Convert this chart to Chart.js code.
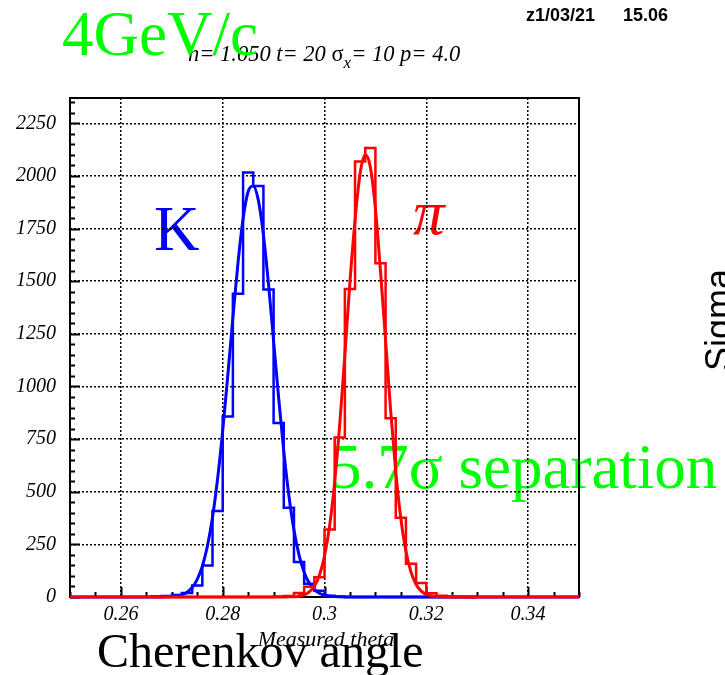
<!DOCTYPE html>
<html>
<head>
<meta charset="utf-8">
<script src="https://cdn.jsdelivr.net/npm/chart.js@4.4.1/dist/chart.umd.min.js"></script>
<style>
  html, body { margin: 0; padding: 0; background: #fff; }
  canvas { display: block; }
</style>
</head>
<body>
<canvas id="thetaChart" width="725" height="675"></canvas>
<script>
// histogram bin edges (0.002 wide) and counts per bin
const thetaEdges = [0.266, 0.268, 0.270, 0.272, 0.274, 0.276, 0.278, 0.280, 0.282, 0.284,
                    0.286, 0.288, 0.290, 0.292, 0.294, 0.296, 0.298, 0.300, 0.302, 0.304,
                    0.306, 0.308, 0.310, 0.312, 0.314, 0.316, 0.318, 0.320, 0.322, 0.324,
                    0.326, 0.328, 0.330];
const kaonCounts = [2, 5, 10, 19, 55, 150, 408, 857, 1440, 2016,
                    1952, 1460, 826, 424, 166, 63, 30, 6, 2, 0,
                    0, 0, 0, 0, 0, 0, 0, 0, 0, 0,
                    0, 0];
const pionCounts = [0, 0, 0, 0, 0, 0, 0, 0, 0, 0,
                    0, 0, 2, 5, 19, 49, 94, 321, 758, 1463,
                    2068, 2132, 1585, 849, 376, 158, 67, 18, 6, 2,
                    0, 0];

// gaussian fit curves, sampled every 0.001
const kaonFitTheta = [0.250, 0.266, 0.267, 0.268, 0.269, 0.270, 0.271, 0.272, 0.273, 0.274,
                      0.275, 0.276, 0.277, 0.278, 0.279, 0.280, 0.281, 0.282, 0.283, 0.284,
                      0.285, 0.286, 0.287, 0.288, 0.289, 0.290, 0.291, 0.292, 0.293, 0.294,
                      0.295, 0.296, 0.297, 0.298, 0.299, 0.300, 0.301, 0.302, 0.303, 0.304,
                      0.350];
const kaonFitValues = [0, 0, 0, 0, 1, 2, 5, 11, 23, 45,
                       84, 146, 242, 379, 562, 790, 1052, 1326, 1586, 1796,
                       1926, 1952, 1885, 1720, 1486, 1216, 943, 693, 482, 318,
                       199, 118, 66, 35, 18, 8, 4, 2, 1, 0,
                       0];
const pionFitTheta = [0.250, 0.290, 0.291, 0.292, 0.293, 0.294, 0.295, 0.296, 0.297, 0.298,
                      0.299, 0.300, 0.301, 0.302, 0.303, 0.304, 0.305, 0.306, 0.307, 0.308,
                      0.309, 0.310, 0.311, 0.312, 0.313, 0.314, 0.315, 0.316, 0.317, 0.318,
                      0.319, 0.320, 0.321, 0.322, 0.323, 0.324, 0.350];
const pionFitValues = [0, 0, 0, 0, 1, 1, 4, 10, 24, 51,
                       103, 194, 337, 546, 822, 1150, 1496, 1790, 2012, 2100,
                       2042, 1845, 1548, 1219, 884, 596, 373, 217, 118, 59,
                       28, 12, 5, 2, 1, 0, 0];

const xTickValues = [0.26, 0.28, 0.30, 0.32, 0.34];
const xTickLabels = ['0.26', '0.28', '0.3', '0.32', '0.34'];
const yTickValues = [0, 250, 500, 750, 1000, 1250, 1500, 1750, 2000, 2250];
const yTickLabels = ['0', '250', '500', '750', '1000', '1250', '1500', '1750', '2000', '2250'];

const serif = '"Liberation Serif", "Times New Roman", serif';
const sans = '"Liberation Sans", Arial, sans-serif';
const GREEN = 'rgb(0,255,0)';
const BLUE = 'rgb(0,0,255)';
const RED = 'rgb(255,0,0)';

function histPoints(counts) {
    const pts = [{x: thetaEdges[0], y: 0}];
    counts.forEach((c, i) => pts.push({x: thetaEdges[i], y: c}));
    pts.push({x: thetaEdges[thetaEdges.length - 1], y: 0});
    return pts;
}

function curvePoints(xs, ys) {
    return xs.map((x, i) => ({x: x, y: ys[i]}));
}

// draws text and returns its advance so pieces can be chained
function put(ctx, text, x, y, font, color, align) {
    ctx.font = font;
    ctx.fillStyle = color;
    ctx.textAlign = align || 'left';
    ctx.textBaseline = 'alphabetic';
    ctx.fillText(text, x, y);
    return ctx.measureText(text).width;
}

// labels sit underneath the grid and the histograms
const labelsPlugin = {
    id: 'labels',
    beforeDraw(chart) {
        const ctx = chart.ctx;
        ctx.save();
        ctx.fillStyle = '#fff';
        ctx.fillRect(0, 0, chart.width, chart.height);

        // run parameters line
        const it = 'italic 22.5px ' + serif;
        let px = 188;
        px += put(ctx, 'n= 1.050 t= 20 ', px, 61, it, '#000');
        px += put(ctx, '\u03c3', px, 61, '22.5px ' + serif, '#000');
        px += put(ctx, 'x', px, 68, 'italic 17px ' + serif, '#000');
        put(ctx, '= 10 p= 4.0', px, 61, it, '#000');

        put(ctx, '4GeV/c', 62, 55, '63px ' + serif, GREEN);

        put(ctx, 'z1/03/21', 526, 21, 'bold 18px ' + sans, '#000');
        put(ctx, '15.06', 623, 21, 'bold 18px ' + sans, '#000');

        put(ctx, 'K', 154, 250, '63px ' + serif, BLUE);
        put(ctx, '\u03c0', 413, 234, 'italic 63px ' + serif, RED);
        put(ctx, '5.7\u03c3 separation', 330, 488, '63px ' + serif, GREEN);

        put(ctx, 'Cherenkov angle', 97, 667, '48px ' + serif, '#000');
        put(ctx, 'Measured theta', 326, 646, 'italic 22px ' + serif, '#000', 'center');

        ctx.translate(731, 371);
        ctx.rotate(-Math.PI / 2);
        put(ctx, 'Sigma', 0, 0, '36px ' + sans, '#000');
        ctx.restore();
    }
};

// box around the plot plus inward major/minor ticks
const framePlugin = {
    id: 'frame',
    beforeDatasetsDraw(chart) {
        const {ctx, chartArea: a, scales: {x, y}} = chart;
        ctx.save();
        ctx.strokeStyle = '#000';
        ctx.lineWidth = 2;
        ctx.strokeRect(a.left, a.top, a.right - a.left, a.bottom - a.top);

        ctx.beginPath();
        for (let k = 0; k * 50 <= y.max; k++) {
            const py = Math.round(y.getPixelForValue(k * 50)) + 0.5;
            const len = k % 5 === 0 ? 10 : 5;
            ctx.moveTo(a.left, py);
            ctx.lineTo(a.left + len, py);
        }
        for (let k = 0; k <= 20; k++) {
            const v = 0.25 + k * 0.005;
            const px = Math.round(x.getPixelForValue(v)) + 0.5;
            const len = k % 4 === 2 ? 10 : 5;
            ctx.moveTo(px, a.bottom);
            ctx.lineTo(px, a.bottom - len);
        }
        ctx.stroke();
        ctx.restore();
    }
};

const ctx = document.getElementById('thetaChart').getContext('2d');

new Chart(ctx, {
    type: 'line',
    data: {
        datasets: [
            { label: 'pi fit', data: curvePoints(pionFitTheta, pionFitValues), borderColor: RED,
              borderWidth: 3, pointRadius: 0, cubicInterpolationMode: 'monotone', clip: false },
            { label: 'pi', data: histPoints(pionCounts), borderColor: RED, borderWidth: 2.5,
              pointRadius: 0, stepped: true, clip: false },
            { label: 'K fit', data: curvePoints(kaonFitTheta, kaonFitValues), borderColor: BLUE,
              borderWidth: 3, pointRadius: 0, cubicInterpolationMode: 'monotone', clip: false },
            { label: 'K', data: histPoints(kaonCounts), borderColor: BLUE, borderWidth: 2.5,
              pointRadius: 0, stepped: true, clip: false }
        ]
    },
    options: {
        responsive: false,
        animation: false,
        devicePixelRatio: 1,
        layout: { padding: { left: 0, top: 98, right: 146, bottom: 38 } },
        plugins: { legend: { display: false }, tooltip: { enabled: false } },
        scales: {
            x: {
                type: 'linear',
                min: 0.25,
                max: 0.35,
                afterFit: s => { s.height = 40; },
                afterBuildTicks: s => { s.ticks = xTickValues.map(v => ({value: v})); },
                grid: { color: '#000', lineWidth: 1.5, drawTicks: false },
                border: { display: false, dash: [2, 2] },
                ticks: {
                    autoSkip: false, maxRotation: 0, padding: 6, color: '#000',
                    font: { family: serif, size: 20, style: 'italic' },
                    callback: (v, i) => xTickLabels[i]
                }
            },
            y: {
                min: 0,
                max: 2370,
                afterFit: s => { s.width = 70; },
                afterBuildTicks: s => { s.ticks = yTickValues.map(v => ({value: v})); },
                grid: { color: '#000', lineWidth: 1.5, drawTicks: false },
                border: { display: false, dash: [2, 2] },
                ticks: {
                    autoSkip: false, padding: 14, color: '#000',
                    font: { family: serif, size: 20, style: 'italic' },
                    callback: (v, i) => yTickLabels[i]
                }
            }
        }
    },
    plugins: [labelsPlugin, framePlugin]
});
</script>
</body>
</html>
